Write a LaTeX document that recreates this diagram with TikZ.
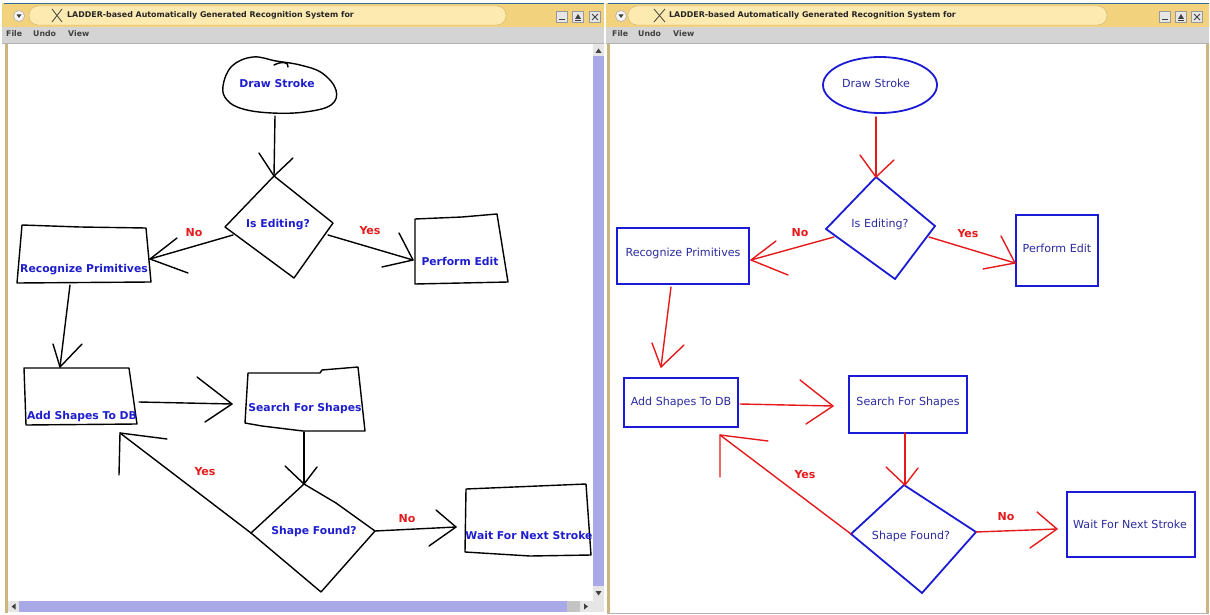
\documentclass[tikz,border=0pt]{standalone}
\usepackage{fontspec}
\setmainfont{DejaVu Sans}
\usetikzlibrary{calc}
\definecolor{lblue}{HTML}{1E1ECF}
\definecolor{rblue}{HTML}{1B1BD6}
\definecolor{rtext}{HTML}{2B2B9E}
\definecolor{redc}{HTML}{E61A1A}
\definecolor{titleY}{HTML}{F3D27E}
\definecolor{pillY}{HTML}{FCEAB0}
\definecolor{menuG}{HTML}{D4D4D4}
\definecolor{tanc}{HTML}{CDB580}
\definecolor{lav}{HTML}{A9A9E8}
\definecolor{edgec}{HTML}{2F6F8F}
\definecolor{btnG}{HTML}{E6E6E6}
\newcommand\conn[5][sk]{\draw[#1] (#2) -- (#3); \draw[#1] ($(#3)+(#4)$) -- (#3) -- ($(#3)+(#5)$);}
\tikzset{
  sk/.style={black, line width=1.4pt, line join=round, line cap=round},
  rc/.style={redc, line width=1.4pt, line cap=round, line join=round},
  rs/.style={rblue, line width=1.8pt},
  lt/.style={font=\bfseries\fontsize{10.8}{12}\selectfont, text=lblue, inner sep=0pt},
  rt/.style={font=\fontsize{11.1}{13}\selectfont, text=rtext, inner sep=0pt},
  yn/.style={font=\bfseries\fontsize{11}{12}\selectfont, text=redc, inner sep=0pt},
  ttl/.style={font=\bfseries\fontsize{7.9}{9}\selectfont, text=black!85, inner sep=0pt, anchor=west},
  menu/.style={font=\bfseries\fontsize{7.8}{9}\selectfont, text=black!75, inner sep=0pt, anchor=west},
  cbtn/.style={circle, minimum size=11pt, inner sep=0pt, fill=white!92!gray, draw=gray!70, line width=0.5pt},
  wbtn/.style={rectangle, minimum size=11pt, inner sep=0pt, fill=btnG, draw=gray!80, line width=0.5pt},
  ico/.style={black!75, line width=1pt},
}
\begin{document}
\begin{tikzpicture}[x=1pt,y=-1pt]
\useasboundingbox (0,0) rectangle (1210,615);
\fill[white] (0,0) rectangle (1210,615);

% ================= LEFT WINDOW CHROME =================
\fill[titleY] (2,3) rectangle (604,27);
\draw[edgec, line width=1pt] (4,3.5) -- (604,3.5);
\fill[pillY, draw=titleY!85!black, line width=0.4pt, rounded corners=9pt] (29,6) rectangle (506,25);
\node[cbtn] (Lcb) at (19,16) {};
\fill[black!75] (16.5,14.5) -- (21.5,14.5) -- (19,18) -- cycle;
\draw[black!75, line width=0.8pt] (52,9) -- (62,22) (62,9) -- (52,22);
\node[ttl] (Ltitle) at (67,15) {LADDER-based Automatically Generated Recognition System for};
\node[wbtn] (Lmin) at (562,17) {};
\node[wbtn] (Lmax) at (578,17) {};
\node[wbtn] (Lcls) at (595,17) {};
\draw[ico] (559,20) -- (565,20);
\fill[black!75] (575,19) -- (581,19) -- (578,14) -- cycle; \draw[ico] (575,21) -- (581,21);
\draw[ico] (592,14) -- (598,20) (598,14) -- (592,20);
\fill[menuG] (2,27) rectangle (604,43);
\draw[gray!60] (2,43) -- (604,43);
\node[menu] (LFile) at (6,34) {File};
\node[menu] (LUndo) at (33,34) {Undo};
\node[menu] (LView) at (68,34) {View};
\fill[tanc] (4.5,44) rectangle (7.5,613);
% scrollbars
\fill[lav] (593,44) rectangle (604,600);
\fill[btnG] (593,44) rectangle (604,56);
\fill[black!75] (595.5,53) -- (601.5,53) -- (598.5,48.5) -- cycle;
\fill[btnG] (593,586) rectangle (604,600);
\fill[black!75] (595.5,591) -- (601.5,591) -- (598.5,595.5) -- cycle;
\fill[lav] (8,601) rectangle (593,612);
\fill[btnG] (8,601) rectangle (19,612);
\fill[black!75] (15.5,603.5) -- (15.5,609.5) -- (11.5,606.5) -- cycle;
\fill[btnG!85!black] (567,601) rectangle (580,612);
\fill[btnG] (580,601) rectangle (593,612);
\fill[black!75] (584,603.5) -- (584,609.5) -- (588,606.5) -- cycle;
\fill[btnG] (593,600) rectangle (604,612);

% ================= RIGHT WINDOW CHROME =================
\fill[titleY] (606,3) rectangle (1209,27);
\draw[edgec, line width=1pt] (608,3.5) -- (1209,3.5);
\fill[pillY, draw=titleY!85!black, line width=0.4pt, rounded corners=9pt] (628,6) rectangle (1107,25);
\node[cbtn] (Rcb) at (621,16) {};
\fill[black!75] (618.5,14.5) -- (623.5,14.5) -- (621,18) -- cycle;
\draw[black!75, line width=0.8pt] (654,9) -- (665,22) (665,9) -- (654,22);
\node[ttl] (Rtitle) at (669,15) {LADDER-based Automatically Generated Recognition System for};
\node[wbtn] (Rmin) at (1165,17) {};
\node[wbtn] (Rmax) at (1181,17) {};
\node[wbtn] (Rcls) at (1197,17) {};
\draw[ico] (1162,20) -- (1168,20);
\fill[black!75] (1178,19) -- (1184,19) -- (1181,14) -- cycle; \draw[ico] (1178,21) -- (1184,21);
\draw[ico] (1194,14) -- (1200,20) (1200,14) -- (1194,20);
\fill[menuG] (606,27) rectangle (1209,43);
\draw[gray!60] (606,43) -- (1209,43);
\node[menu] (RFile) at (612,34) {File};
\node[menu] (RUndo) at (638,34) {Undo};
\node[menu] (RView) at (673,34) {View};
\fill[tanc] (606.5,44) rectangle (609.5,614);
\fill[tanc] (1206,44) rectangle (1209,614);
\draw[gray!60, line width=1pt] (606.5,613.5) -- (1209,613.5);

% ================= LEFT SKETCH =================
\draw[sk] plot[smooth cycle, tension=0.65] coordinates {(223,86) (232,66) (253,57) (276,61) (300,65) (322,73) (336,90) (331,105) (305,112) (272,113) (243,109) (227,100)};
\draw[sk] (274,65) .. controls (282,61) and (289,62) .. (288,67);
\node[lt] (Lds) at (277,83) {Draw Stroke};
\draw[sk] (274,176) -- (333,223) -- (294,278) -- (225,227) -- cycle;
\node[lt] (Lie) at (278,225) {Is Editing?};
\draw[sk] (22,225) -- (80,227) -- (146,228) -- (151,282) -- (17,283) -- cycle;
\node[lt] (Lrp) at (84,270) {Recognize Primitives};
\draw[sk] (415,219) -- (462,217) -- (497,214) -- (508,282) -- (415,284) -- cycle;
\node[lt] (Lpe) at (460,261) {Perform Edit};
\draw[sk] (24,368) -- (129,368) -- (137,424) -- (26,425) -- cycle;
\node[lt] (Las) at (82,417) {Add Shapes To DB};
\draw[sk] (248,373) -- (320,373) -- (322,370) -- (358,367) -- (365,431) -- (303,431) -- (262,426) -- (245,423) -- cycle;
\node[lt] (Lsf) at (305,409) {Search For Shapes};
\draw[sk] (304,484) -- (336,503) -- (375,531) -- (321,592) -- (251,533) -- cycle;
\node[lt] (Lfd) at (314,532) {Shape Found?};
\draw[sk] (466,489) -- (586,484) -- (591,555) -- (530,556) -- (465,552) -- cycle;
\node[lt] (Lwn) at (529,535) {Wait For Next Stroke};

\coordinate (La1s) at (275,116); \coordinate (La1e) at (274,176);
\coordinate (La2s) at (233,235); \coordinate (La2e) at (150,259);
\coordinate (La3s) at (328,235); \coordinate (La3e) at (413,260);
\coordinate (La4s) at (70,285);  \coordinate (La4e) at (60,367);
\coordinate (La5s) at (139,402); \coordinate (La5e) at (232,404);
\coordinate (La6s) at (304,432); \coordinate (La6e) at (304,484);
\coordinate (La7s) at (251,533); \coordinate (La7e) at (120,433);
\coordinate (La8s) at (375,531); \coordinate (La8e) at (456,527);
\conn{La1s}{La1e}{-15,-23}{19,-18}
\conn{La2s}{La2e}{27,-21}{38,14}
\conn{La3s}{La3e}{-14,-27}{-31,7}
\conn{La4s}{La4e}{-7,-23}{22,-23}
\conn{La5s}{La5e}{-35,-27}{-27,18}
\conn{La6s}{La6e}{-19,-18}{13,-17}
\conn{La7s}{La7e}{-1,42}{47,6}
\conn{La8s}{La8e}{-20,-17}{-27,19}
\node[yn] (Lno1) at (194,233) {No};
\node[yn] (Lyes1) at (370,231) {Yes};
\node[yn] (Lyes2) at (205,472) {Yes};
\node[yn] (Lno2) at (407,519) {No};

% ================= RIGHT CLEAN =================
\draw[rs] (880,85) ellipse [x radius=57, y radius=28];
\node[rt] (Rds) at (876,83) {Draw Stroke};
\draw[rs, line join=miter] (876,177) -- (935,226) -- (895,279) -- (826,229) -- cycle;
\node[rt] (Rie) at (880,224) {Is Editing?};
\draw[rs] (617,228) rectangle (749,284);
\node[rt] (Rrp) at (683,253) {Recognize Primitives};
\draw[rs] (1016,215) rectangle (1098,286);
\node[rt] (Rpe) at (1057,248) {Perform Edit};
\draw[rs] (624,378) rectangle (738,427);
\node[rt] (Ras) at (681,402) {Add Shapes To DB};
\draw[rs] (849,376) rectangle (967,433);
\node[rt] (Rsf) at (908,402) {Search For Shapes};
\draw[rs, line join=miter] (904,485) -- (976,532) -- (922,593) -- (851,534) -- cycle;
\node[rt] (Rfd) at (911,536) {Shape Found?};
\draw[rs] (1067,492) rectangle (1195,557);
\node[rt] (Rwn) at (1130,524) {Wait For Next Stroke};

\coordinate (Ra1s) at (876,117); \coordinate (Ra1e) at (876,177);
\coordinate (Ra2s) at (834,237); \coordinate (Ra2e) at (751,260);
\coordinate (Ra3s) at (929,237); \coordinate (Ra3e) at (1015,263);
\coordinate (Ra4s) at (671,287); \coordinate (Ra4e) at (661,367);
\coordinate (Ra5s) at (740,404); \coordinate (Ra5e) at (833,406);
\coordinate (Ra6s) at (905,433); \coordinate (Ra6e) at (905,485);
\coordinate (Ra7s) at (851,534); \coordinate (Ra7e) at (720,435);
\coordinate (Ra8s) at (976,532); \coordinate (Ra8e) at (1057,529);
\conn[rc]{Ra1s}{Ra1e}{-16,-22}{18,-17}
\conn[rc]{Ra2s}{Ra2e}{25,-19}{37,15}
\conn[rc]{Ra3s}{Ra3e}{-14,-27}{-32,6}
\conn[rc]{Ra4s}{Ra4e}{-9,-24}{23,-22}
\conn[rc]{Ra5s}{Ra5e}{-33,-26}{-27,18}
\conn[rc]{Ra6s}{Ra6e}{-19,-18}{13,-17}
\conn[rc]{Ra7s}{Ra7e}{0,42}{48,6}
\conn[rc]{Ra8s}{Ra8e}{-20,-17}{-27,19}
\node[yn] (Rno1) at (800,233) {No};
\node[yn] (Ryes1) at (968,234) {Yes};
\node[yn] (Ryes2) at (805,475) {Yes};
\node[yn] (Rno2) at (1006,517) {No};
\end{tikzpicture}
\end{document}
